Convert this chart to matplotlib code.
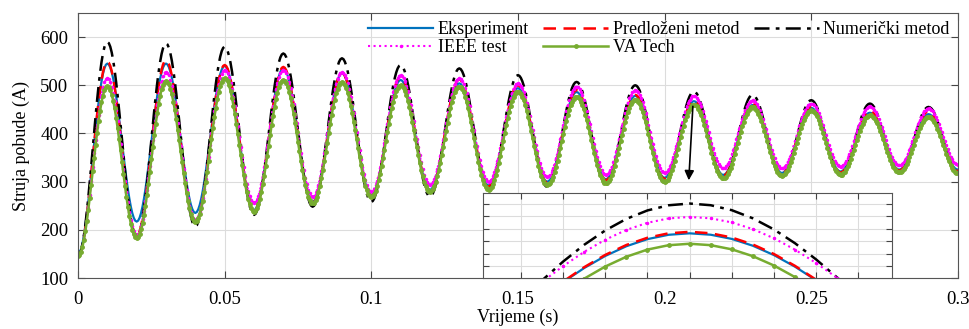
import numpy as np
import matplotlib
matplotlib.use('Agg')
import matplotlib.pyplot as plt

plt.rcParams['font.family'] = ['Liberation Serif', 'DejaVu Serif']

# extrema: troughs at t = 0, 0.02, ..., 0.30 and peaks at t = 0.01, ..., 0.29
trough_times = [0.00, 0.02, 0.04, 0.06, 0.08, 0.10, 0.12, 0.14, 0.16, 0.18, 0.20, 0.22, 0.24, 0.26, 0.28, 0.30]
peak_times = [0.01, 0.03, 0.05, 0.07, 0.09, 0.11, 0.13, 0.15, 0.17, 0.19, 0.21, 0.23, 0.25, 0.27, 0.29]

eksp_troughs = [150, 217, 235, 241, 258, 272, 283, 292, 300, 305, 308, 314, 318, 321, 325, 325]
eksp_peaks = [545, 545, 540, 535, 525, 511, 504, 494, 486, 478, 467, 459, 453, 443, 440]

pred_troughs = [145, 188, 215, 238, 256, 270, 282, 290, 298, 303, 306, 312, 316, 319, 323, 322]
pred_peaks = [549, 552, 542, 538, 526, 518, 512, 500, 490, 480, 468, 462, 456, 447, 446]

num_troughs = [145, 185, 207, 231, 248, 258, 269, 283, 289, 295, 298, 305, 310, 313, 318, 318]
num_peaks = [590, 587, 580, 566, 556, 542, 535, 521, 507, 500, 487, 480, 469, 462, 455]

ieee_troughs = [145, 190, 220, 255, 269, 279, 293, 300, 310, 314, 318, 328, 328, 331, 334, 335]
ieee_peaks = [515, 528, 532, 532, 528, 521, 515, 504, 497, 490, 478, 469, 462, 456, 452]

va_troughs = [145, 183, 217, 238, 255, 269, 279, 283, 293, 297, 300, 307, 312, 314, 320, 318]
va_peaks = [498, 509, 515, 511, 507, 500, 497, 487, 476, 470, 460, 455, 448, 438, 434]

labels = ['Eksperiment', 'Predloženi metod', 'Numerički metod', 'IEEE test', 'VA Tech']

dt = 0.0005
t = np.arange(0, 0.3 + dt / 2, dt)


def waveform(troughs, peaks):
    # join consecutive extrema with half-cosine arcs
    times = sorted(trough_times + peak_times)
    vals = []
    for i in range(len(times)):
        vals.append(troughs[i // 2] if i % 2 == 0 else peaks[i // 2])
    times = np.array(times)
    vals = np.array(vals, dtype=float)
    k = np.clip(np.searchsorted(times, t, side='right') - 1, 0, len(times) - 2)
    s = (t - times[k]) / (times[k + 1] - times[k])
    return vals[k] + (vals[k + 1] - vals[k]) * (1 - np.cos(np.pi * s)) / 2


series = [
    (waveform(eksp_troughs, eksp_peaks), dict(color='#0072BD', ls='-', lw=1.6)),
    (waveform(pred_troughs, pred_peaks), dict(color='#FF0000', ls=(0, (5, 3)), lw=1.8)),
    (waveform(num_troughs, num_peaks), dict(color='black', ls=(0, (6, 2.5, 1.5, 2.5)), lw=1.8)),
    (waveform(ieee_troughs, ieee_peaks), dict(color='#FF00FF', ls=':', lw=1.5, marker='.', ms=3)),
    (waveform(va_troughs, va_peaks), dict(color='#77AC30', ls='-', lw=1.8, marker='.', ms=5)),
]

fig = plt.figure(figsize=(9.69, 3.29), dpi=100)
ax = fig.add_axes([0.0805, 0.155, 0.908, 0.8055])

handles = []
for (y, st), lab in zip(series, labels):
    h, = ax.plot(t, y, label=lab, **st)
    handles.append(h)

ax.set_xlim(0, 0.3)
ax.set_ylim(100, 650)
ax.set_xticks([0, 0.05, 0.1, 0.15, 0.2, 0.25, 0.3])
ax.set_xticklabels(['0', '0.05', '0.1', '0.15', '0.2', '0.25', '0.3'])
ax.set_yticks([100, 200, 300, 400, 500, 600])
ax.grid(True, color='#dcdcdc', lw=0.8)
ax.tick_params(direction='in', top=True, right=True, labelsize=13.5, length=5, color='#444444')
ax.tick_params(axis='x', pad=9)
ax.tick_params(axis='y', pad=7)
for sp in ax.spines.values():
    sp.set_color('#555555')
ax.set_xlabel('Vrijeme (s)', fontsize=13, labelpad=1)
ax.set_ylabel('Struja pobude (A)', fontsize=13, labelpad=7)

order = [0, 3, 1, 4, 2]
ax.legend([handles[i] for i in order], [labels[i] for i in order], ncol=3, loc='upper right',
          frameon=False, fontsize=13, handlelength=3.6, columnspacing=0.8, handletextpad=0.25,
          borderaxespad=0.05, labelspacing=0.05)

ax.annotate('', xy=(0.2082, 297), xytext=(0.2097, 462),
            arrowprops=dict(arrowstyle='-|>', color='black', lw=1.2, mutation_scale=14))

# zoomed view of the peak at 0.21 s
axin = fig.add_axes([0.4985, 0.155, 0.422, 0.258])
for y, st in series:
    axin.plot(t, y, **st)
axin.set_xlim(0.2051, 0.2148)
axin.set_ylim(437, 494)
axin.set_xticks(np.arange(0.206, 0.2145, 0.001))
axin.set_yticks(np.arange(445, 494, 8.4))
axin.set_xticklabels([])
axin.set_yticklabels([])
axin.grid(True, color='#dcdcdc', lw=0.8)
axin.tick_params(direction='in', top=True, right=True, length=4, color='#444444')
for sp in axin.spines.values():
    sp.set_color('#555555')

fig.savefig('out.png', dpi=100)
